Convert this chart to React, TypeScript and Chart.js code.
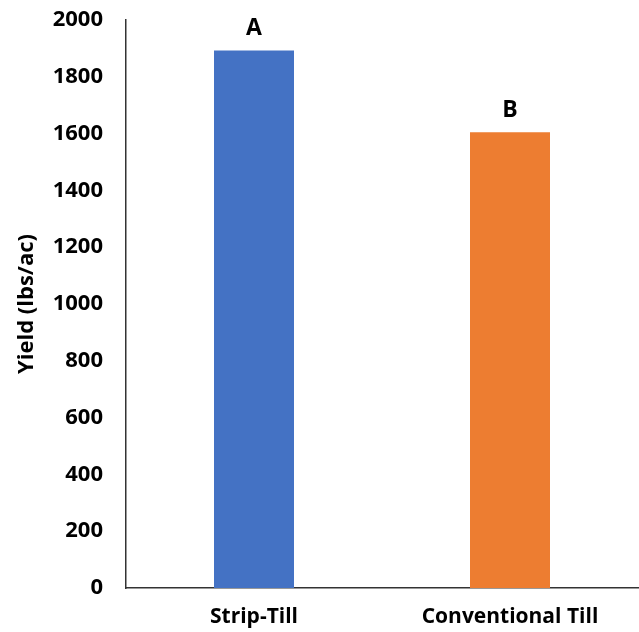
import React, { useEffect, useRef } from "react";
import { Chart, registerables } from "chart.js";

Chart.register(...registerables);

const categories = ["Strip-Till", "Conventional Till"];
const yieldValues = [1893, 1605];
const letters = ["A", "B"];
const barColors = ["#4472C4", "#ED7D31"];
const yTicks = [0, 200, 400, 600, 800, 1000, 1200, 1400, 1600, 1800, 2000];

const FONT = "'Open Sans', sans-serif";

const letterPlugin = {
  id: "letters",
  afterDatasetsDraw(chart: any) {
    const ctx = chart.ctx;
    const meta = chart.getDatasetMeta(0);
    ctx.save();
    ctx.font = `bold 23px ${FONT}`;
    ctx.fillStyle = "#000";
    ctx.textAlign = "center";
    ctx.textBaseline = "middle";
    meta.data.forEach((bar: any, i: number) => {
      ctx.fillText(letters[i], bar.x, bar.y - 22);
    });
    ctx.restore();
  },
};

export default function App() {
  const ref = useRef<HTMLCanvasElement>(null);
  useEffect(() => {
    if (!ref.current) return;
    const chart = new Chart(ref.current, {
      type: "bar",
      data: {
        labels: categories,
        datasets: [
          {
            data: yieldValues,
            backgroundColor: barColors,
            barPercentage: 0.3125,
            categoryPercentage: 1,
          },
        ],
      },
      options: {
        responsive: false,
        animation: false,
        layout: { padding: { top: 20, right: 1, left: 0, bottom: 0 } },
        plugins: {
          legend: { display: false },
          tooltip: { enabled: false },
        },
        scales: {
          x: {
            grid: { display: false, drawTicks: false },
            border: { display: true, color: "#333", width: 1.5 },
            ticks: {
              color: "#000",
              font: { family: FONT, size: 21, weight: "bold" },
              padding: 16,
              maxRotation: 0,
            },
            afterFit: (s: any) => {
              s.height = 44;
              s.paddingLeft = 0;
              s.paddingRight = 0;
            },
          },
          y: {
            min: 0,
            max: 2000,
            afterBuildTicks: (s: any) => {
              s.ticks = yTicks.map((v) => ({ value: v }));
            },
            grid: { display: false, drawTicks: false },
            border: { display: true, color: "#333", width: 1.5 },
            ticks: {
              color: "#000",
              font: { family: FONT, size: 22, weight: "bold" },
              padding: 23,
              callback: (v: any) => String(v),
            },
            title: {
              display: true,
              text: "Yield (lbs/ac)",
              color: "#000",
              font: { family: FONT, size: 22, weight: "bold" },
              padding: { top: 14, bottom: 0 },
            },
            afterFit: (s: any) => {
              s.width = 126;
              s.paddingTop = 0;
              s.paddingBottom = 0;
            },
          },
        },
      },
      plugins: [letterPlugin],
    });
    return () => chart.destroy();
  }, []);
  return (
    <div style={{ position: "absolute", left: 0, top: 0, width: 639, height: 632, background: "#fff" }}>
      <canvas ref={ref} width={639} height={632} style={{ width: 639, height: 632 }} />
    </div>
  );
}
